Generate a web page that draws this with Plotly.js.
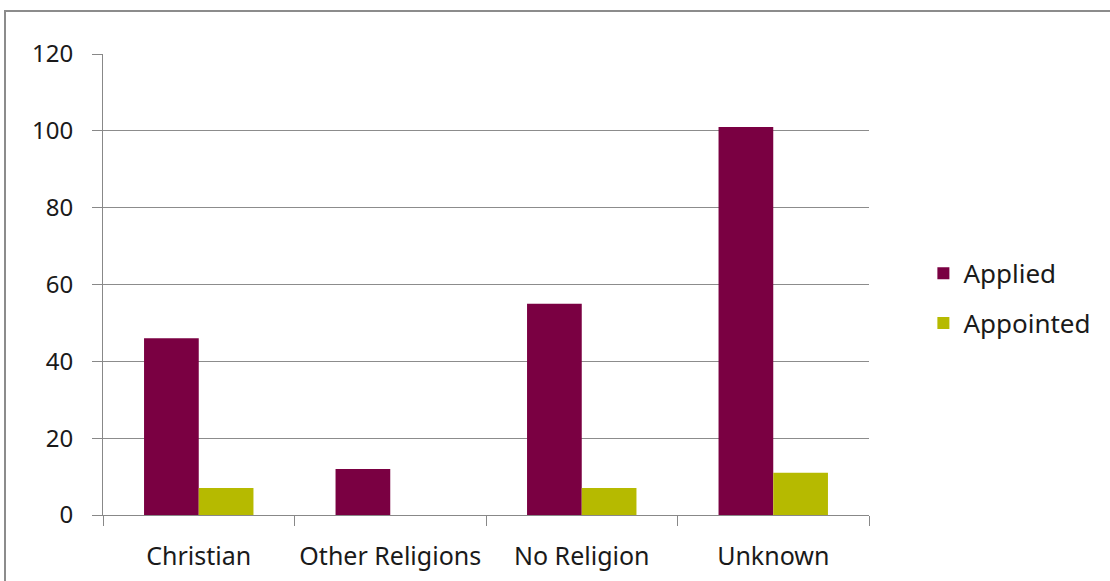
<!DOCTYPE html>
<html>
<head>
<meta charset="utf-8">
<script src="https://cdn.plot.ly/plotly-3.0.1.min.js"></script>
<style>
  html, body { margin: 0; padding: 0; background: #fff; overflow: hidden; }
  #frame { position: absolute; left: 4px; top: 10px; width: 1200px; height: 700px; border: 2px solid #8c8c8c; box-sizing: border-box; }
  #chart { position: absolute; left: 0; top: 0; width: 1110px; height: 581px; }
</style>
</head>
<body>
<div id="frame"></div>
<div id="chart"></div>
<script>
const categories = ["Christian", "Other Religions", "No Religion", "Unknown"];
const applied = [46, 12, 55, 101];
const appointed = [7, 0, 7, 11];
const seriesNames = ["Applied", "Appointed"];
const yTicks = [0, 20, 40, 60, 80, 100, 120];

const fontFam = "'Noto Sans', 'Open Sans', sans-serif";
const txtColor = "#1a1a1a";
const traces = [
  { type: "bar", name: seriesNames[0], legendgroup: "a", x: categories, y: applied, marker: { color: "#7a0042" } },
  { type: "bar", name: seriesNames[1], legendgroup: "b", x: categories, y: appointed, marker: { color: "#b6ba00" } }
];
const layout = {
  width: 1110, height: 581,
  margin: { l: 103, r: 241, t: 54, b: 66 },
  paper_bgcolor: "rgba(0,0,0,0)", plot_bgcolor: "rgba(0,0,0,0)",
  barmode: "group", bargap: 0.4286, bargroupgap: 0,
  font: { family: fontFam, size: 24, color: txtColor },
  xaxis: {
    type: "category", showline: true, linecolor: "#888", linewidth: 1,
    ticks: "outside", tickson: "boundaries", ticklen: 10, tickcolor: "#888",
    showgrid: false, tickfont: { size: 25, color: txtColor }, ticklabelstandoff: 19
  },
  yaxis: {
    range: [0, 120], tickvals: yTicks, ticktext: yTicks.map(String),
    showline: true, linecolor: "#888", linewidth: 1,
    ticks: "outside", ticklen: 10, tickcolor: "#888",
    showgrid: true, gridcolor: "#8c8c8c", gridwidth: 1, zeroline: false,
    tickfont: { size: 24, color: txtColor }, ticklabelstandoff: 14
  },
  showlegend: true,
  legend: { x: 1.071, y: 0.47, xanchor: "left", yanchor: "middle", font: { size: 26, color: txtColor }, tracegroupgap: 13, itemwidth: 30 }
};
Plotly.newPlot("chart", traces, layout, { displayModeBar: false, staticPlot: true });
</script>
</body>
</html>
